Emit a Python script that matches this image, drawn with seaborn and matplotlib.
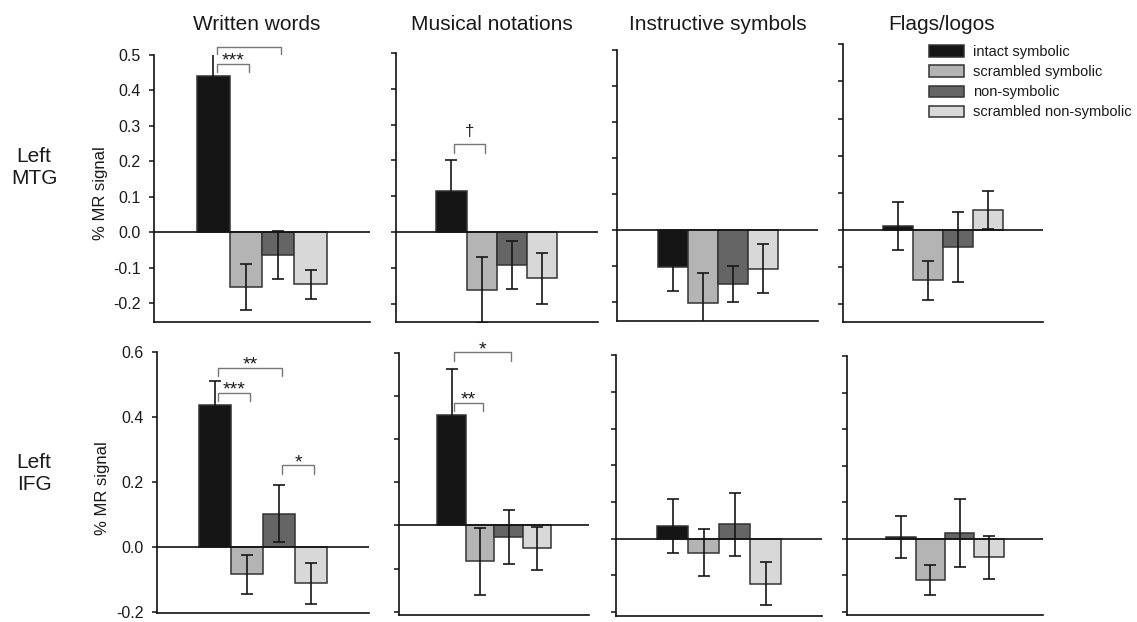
import numpy as np
import pandas as pd
import matplotlib
matplotlib.use("Agg")
import matplotlib.pyplot as plt
import seaborn as sns

# ---------------- data ----------------
categories = ["Written words", "Musical notations", "Instructive symbols", "Flags/logos"]
conditions = ["intact symbolic", "scrambled symbolic", "non-symbolic", "scrambled non-symbolic"]
regions = ["Left\nMTG", "Left\nIFG"]

# Left MTG: mean % MR signal per category (rows) x condition (columns)
mtg_mean = [[0.442, -0.154, -0.063, -0.147],
            [0.115, -0.161, -0.091, -0.128],
            [-0.102, -0.204, -0.150, -0.108],
            [0.011, -0.136, -0.045, 0.054]]
mtg_sem = [[0.060, 0.065, 0.068, 0.040],
           [0.087, 0.093, 0.066, 0.071],
           [0.067, 0.085, 0.050, 0.068],
           [0.064, 0.052, 0.094, 0.051]]

# Left IFG
ifg_mean = [[0.436, -0.085, 0.102, -0.112],
            [0.255, -0.083, -0.027, -0.053],
            [0.035, -0.038, 0.039, -0.123],
            [0.004, -0.113, 0.015, -0.051]]
ifg_sem = [[0.074, 0.060, 0.088, 0.063],
           [0.108, 0.078, 0.062, 0.050],
           [0.073, 0.064, 0.086, 0.059],
           [0.057, 0.042, 0.093, 0.059]]

# significance marks: (row, column, bar i, bar j, label)
sig_pairs = [(0, 0, 0, 1, "***"), (0, 0, 0, 2, "**"), (0, 1, 0, 1, "\u2020"),
             (1, 0, 0, 1, "***"), (1, 0, 0, 2, "**"), (1, 0, 2, 3, "*"),
             (1, 1, 0, 1, "**"), (1, 1, 0, 2, "*")]

# ---------------- style / layout ----------------
sns.set_style("ticks")
plt.rcParams["font.family"] = ["Liberation Sans", "DejaVu Sans"]
plt.rcParams["axes.unicode_minus"] = False
TXT = "#1a1a1a"
cond_colors = ["#151515", "#b4b4b4", "#656565", "#d8d8d8"]

W, H = 1137, 622
fig = plt.figure(figsize=(W / 100, H / 100), dpi=100)

# axes boxes in pixels: left, top, right, bottom
S = 4  # bottom row lifted slightly so the lowest tick label stays inside the canvas
panel_px = {
    (0, 0): (154, 55, 370, 321.7),
    (0, 1): (396, 52.7, 597.7, 321.7),
    (0, 2): (617.3, 50, 818.3, 321),
    (0, 3): (843.3, 44.3, 1042.7, 321.7),
    (1, 0): (156.7, 356 - S, 369.3, 617 - S),
    (1, 1): (399.3, 356.7 - S, 589.3, 619.3 - S),
    (1, 2): (616, 359.3 - S, 822.3, 620 - S),
    (1, 3): (846.7, 360 - S, 1043.3, 619.3 - S),
}
panel_ylim = {
    (0, 0): (-0.252, 0.5), (0, 1): (-0.249, 0.5), (0, 2): (-0.253, 0.5), (0, 3): (-0.247, 0.5),
    (1, 0): (-0.204, 0.6), (1, 1): (-0.208, 0.4), (1, 2): (-0.211, 0.5), (1, 3): (-0.21, 0.5),
}
ticks_top = [-0.2, -0.1, 0.0, 0.1, 0.2, 0.3, 0.4, 0.5]
panel_ticks = {
    (0, 0): ticks_top, (0, 1): ticks_top, (0, 2): ticks_top, (0, 3): ticks_top,
    (1, 0): [-0.2, 0.0, 0.2, 0.4, 0.6],
    (1, 1): [-0.2, -0.1, 0.0, 0.1, 0.2, 0.3, 0.4],
    (1, 2): ticks_top, (1, 3): ticks_top,
}
# bracket heights (top, leg end) in data units, same order as sig_pairs
bracket_y = [(0.476, 0.453), (0.523, 0.502), (0.2456, 0.2215),
             (0.475, 0.449), (0.552, 0.526), (0.251, 0.223),
             (0.284, 0.265), (0.401, 0.380)]

axes = {}
centers = {}
for r, (means_all, sems_all) in enumerate([(mtg_mean, mtg_sem), (ifg_mean, ifg_sem)]):
    for c, cat in enumerate(categories):
        l, t, rr, b = panel_px[(r, c)]
        ax = fig.add_axes([l / W, 1 - b / H, (rr - l) / W, (b - t) / H])
        df = pd.DataFrame({"category": [cat] * 4, "condition": conditions,
                           "value": means_all[c]})
        sns.barplot(data=df, x="category", y="value", hue="condition",
                    hue_order=conditions, palette=cond_colors, saturation=1,
                    width=0.6, gap=0, errorbar=None, edgecolor="#333333",
                    linewidth=1.1, legend=False, ax=ax, zorder=2)
        xs = [cont.patches[0].get_x() + cont.patches[0].get_width() / 2
              for cont in ax.containers]
        centers[(r, c)] = xs
        ax.errorbar(xs, means_all[c], yerr=sems_all[c], fmt="none",
                    ecolor="#161616", elinewidth=1.2, capsize=4, capthick=1.2,
                    zorder=3)
        ax.axhline(0, color="#111111", lw=1.2, zorder=4)
        ax.set_xlim(-0.5, 0.5)
        ax.set_ylim(*panel_ylim[(r, c)])
        ax.set_yticks(panel_ticks[(r, c)])
        ax.yaxis.set_major_formatter(matplotlib.ticker.FormatStrFormatter("%.1f"))
        ax.set_xticks([])
        ax.set_xlabel("")
        ax.set_ylabel("")
        for s in ["top", "right"]:
            ax.spines[s].set_visible(False)
        for s in ["left", "bottom"]:
            ax.spines[s].set_color("#111111")
            ax.spines[s].set_linewidth(1.2)
        ax.tick_params(axis="y", left=True, direction="out", length=3.5, width=1.1,
                       color="#111111", pad=6, labelsize=11.5, labelcolor=TXT,
                       labelleft=(c == 0))
        ax.tick_params(axis="x", bottom=False)
        ax.patch.set_alpha(0)
        axes[(r, c)] = ax

# significance brackets
dx = 0.015
for (r, c, i, j, lab), (yb, yl) in zip(sig_pairs, bracket_y):
    ax = axes[(r, c)]
    xs = centers[(r, c)]
    x0, x1 = xs[i] + dx, xs[j] + dx
    ax.plot([x0, x0, x1, x1], [yl, yb, yb, yl], color="#777777", lw=1.0,
            clip_on=False, zorder=5)
    if lab == "\u2020":
        ax.annotate(lab, xy=((x0 + x1) / 2, yb), xytext=(0, 6), textcoords="offset points",
                    ha="center", va="baseline", fontsize=12, color=TXT)
    else:
        ax.annotate(lab, xy=((x0 + x1) / 2, yb), xytext=(0, -1.5), textcoords="offset points",
                    ha="center", va="baseline", fontsize=14, color=TXT)

# column titles
title_x = [256.3, 491.7, 718.3, 941.7]
for tx, cat in zip(title_x, categories):
    fig.text(tx / W, 1 - 29.5 / H, cat, ha="center", va="baseline", fontsize=15, color=TXT)

# row labels and y labels
for (ry, lab) in zip([167.5, 474], regions):
    fig.text(34 / W, 1 - ry / H, lab, ha="center", va="center", fontsize=15,
             linespacing=1.2, color=TXT, multialignment="center")
for (lx, ly) in [(100, 193.3), (102.7, 488)]:
    fig.text(lx / W, 1 - ly / H, "% MR signal", rotation=90, ha="center", va="center",
             fontsize=12, color=TXT)

# legend
leg_ax = axes[(0, 3)]
fig.legend(handles=list(leg_ax.containers), labels=conditions, loc="upper left",
           bbox_to_anchor=(929.3 / W, 1 - 45 / H), frameon=False, fontsize=10.5,
           handlelength=2.4, handleheight=0.8, handletextpad=0.6, labelspacing=0.42,
           borderpad=0, borderaxespad=0, labelcolor=TXT)

fig.savefig("out.png", dpi=100, facecolor="white")
